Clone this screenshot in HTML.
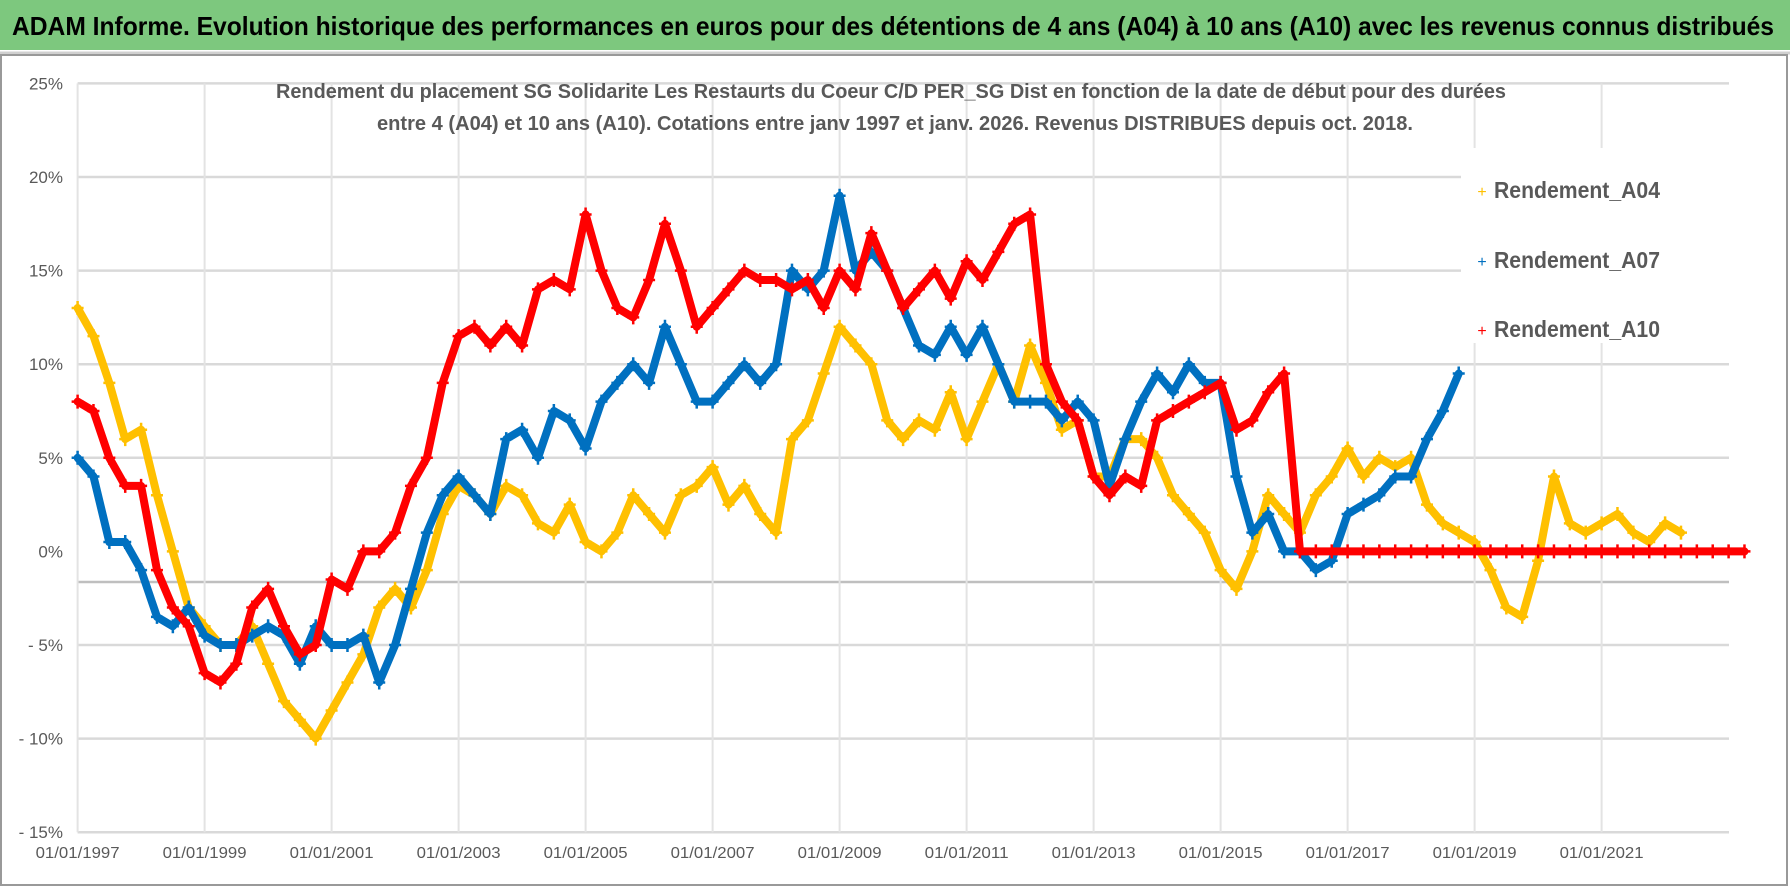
<!DOCTYPE html>
<html><head><meta charset="utf-8"><style>
html,body{margin:0;padding:0;background:#fff;}
svg{display:block;font-family:"Liberation Sans",sans-serif;}
</style></head><body>
<svg id="chart" width="1790" height="887" viewBox="0 0 1790 887" xmlns="http://www.w3.org/2000/svg">
<rect x="0" y="0" width="1790" height="50" fill="#7dc87e"/>
<text x="12" y="35" font-size="26" font-weight="bold" fill="#000" textLength="1762" lengthAdjust="spacingAndGlyphs">ADAM Informe. Evolution historique des performances en euros pour des détentions de 4 ans (A04) à 10 ans (A10) avec les revenus connus distribués</text>
<line x1="0" y1="53" x2="1790" y2="53" stroke="#d0d0d0" stroke-width="3"/>
<rect x="1" y="55" width="1786" height="830" fill="none" stroke="#999" stroke-width="2"/>
<g id="grid"></g>
<g id="series"></g>
<text x="891" y="98" text-anchor="middle" font-size="20" font-weight="bold" fill="#595959" textLength="1230" lengthAdjust="spacingAndGlyphs">Rendement du placement SG Solidarite Les Restaurts du Coeur C/D PER_SG Dist en fonction de la date de début pour des durées</text>
<text x="895" y="130" text-anchor="middle" font-size="20" font-weight="bold" fill="#595959" textLength="1036" lengthAdjust="spacingAndGlyphs">entre 4 (A04) et 10 ans (A10). Cotations entre janv 1997 et janv. 2026. Revenus DISTRIBUES depuis oct. 2018.</text>
<g id="legend">
<rect x="1461" y="148" width="286" height="195" fill="#fff"/>
<text x="1482" y="197" font-size="16" fill="#ffc000" text-anchor="middle">+</text>
<text x="1494" y="198" font-size="23" font-weight="bold" fill="#595959" textLength="166" lengthAdjust="spacingAndGlyphs">Rendement_A04</text>
<text x="1482" y="267" font-size="16" fill="#0070c0" text-anchor="middle">+</text>
<text x="1494" y="268" font-size="23" font-weight="bold" fill="#595959" textLength="166" lengthAdjust="spacingAndGlyphs">Rendement_A07</text>
<text x="1482" y="336" font-size="16" fill="#ff0000" text-anchor="middle">+</text>
<text x="1494" y="337" font-size="23" font-weight="bold" fill="#595959" textLength="166" lengthAdjust="spacingAndGlyphs">Rendement_A10</text>
</g>
</svg>
<script>
const yTicks=[25,20,15,10,5,0,-5,-10,-15];
const yTickLabels=["25%","20%","15%","10%","5%","0%","- 5%","- 10%","- 15%"];
const xTicks=[1997,1999,2001,2003,2005,2007,2009,2011,2013,2015,2017,2019,2021];
const xTickLabels=["01/01/1997","01/01/1999","01/01/2001","01/01/2003","01/01/2005","01/01/2007","01/01/2009","01/01/2011","01/01/2013","01/01/2015","01/01/2017","01/01/2019","01/01/2021"];
const startYear=1997, stepYear=0.25;
const a04=[13,11.5,9,6,6.5,3,0,-3,-4,-5,-5,-4,-6,-8,-9,-10,-8.5,-7,-5.5,-3,-2,-3,-1,2,3.5,3,2,3.5,3,1.5,1,2.5,0.5,0,1,3,2,1,3,3.5,4.5,2.5,3.5,2,1,6,7,9.5,12,11,10,7,6,7,6.5,8.5,6,8,10,8,11,9,6.5,7,4,4,6,6,5,3,2,1,-1,-2,0,3,2,1,3,4,5.5,4,5,4.5,5,2.5,1.5,1,0.5,-1,-3,-3.5,-0.5,4,1.5,1,1.5,2,1,0.5,1.5,1];
const a07=[5,4,0.5,0.5,-1,-3.5,-4,-3,-4.5,-5,-5,-4.5,-4,-4.5,-6,-4,-5,-5,-4.5,-7,-5,-2,1,3,4,3,2,6,6.5,5,7.5,7,5.5,8,9,10,9,12,10,8,8,9,10,9,10,15,14,15,19,15,16,15,13,11,10.5,12,10.5,12,10,8,8,8,7,8,7,3.5,6,8,9.5,8.5,10,9,9,4,1,2,0,0,-1,-0.5,2,2.5,3,4,4,6,7.5,9.5];
const a10=[8,7.5,5,3.5,3.5,-1,-3,-4,-6.5,-7,-6,-3,-2,-4,-5.5,-5,-1.5,-2,0,0,1,3.5,5,9,11.5,12,11,12,11,14,14.5,14,18,15,13,12.5,14.5,17.5,15,12,13,14,15,14.5,14.5,14,14.5,13,15,14,17,15,13,14,15,13.5,15.5,14.5,16,17.5,18,10,8,7,4,3,4,3.5,7,7.5,8,8.5,9,6.5,7,8.5,9.5,0,0,0,0,0,0,0,0,0,0,0,0,0,0,0,0,0,0,0,0,0,0,0,0,0,0,0,0,0];

const X=y=>77.6+(y-1997)*63.5;
const Y=v=>551.4-v*18.72;
const NS="http://www.w3.org/2000/svg";
const grid=document.getElementById('grid');
function mk(tag,attrs,parent){const e=document.createElementNS(NS,tag);for(const k in attrs)e.setAttribute(k,attrs[k]);parent.appendChild(e);return e;}
const plotR=1729;
yTicks.forEach((v,i)=>{
  if(v!==0){const l=mk('line',{x1:77.6,x2:plotR,y1:Y(v),y2:Y(v),stroke:'#d9d9d9','stroke-width':2.5},grid);
  
  }
  const t=mk('text',{x:63,y:Y(v)+6,'text-anchor':'end','font-size':17,fill:'#595959'},grid);
  
  
  t.textContent=yTickLabels[i];
});
const ax=mk('line',{x1:77.6,x2:plotR,y1:582,y2:582,stroke:'#bfbfbf','stroke-width':2.5},grid);


xTicks.forEach((yr,i)=>{
  const l=mk('line',{x1:X(yr),x2:X(yr),y1:Y(25),y2:Y(-15),stroke:'#e3e3e3','stroke-width':2},grid);
  
  
  const t=mk('text',{x:X(yr),y:858,'text-anchor':'middle','font-size':16,fill:'#595959',textLength:84,lengthAdjust:'spacingAndGlyphs'},grid);
  
  
  t.textContent=xTickLabels[i];
});
const sl=document.getElementById('series');
function draw(arr,color,name){
  const g=mk('g',{},sl);
  
  
  const pts=arr.map((v,i)=>X(startYear+i*stepYear).toFixed(1)+','+Y(v).toFixed(1)).join(' ');
  const p=mk('polyline',{points:pts,fill:'none',stroke:color,'stroke-width':8,'stroke-linejoin':'round','stroke-linecap':'round'},g);
  
  
  arr.forEach((v,i)=>{
    const x=X(startYear+i*stepYear),y=Y(v);
    const m=mk('path',{d:`M${x-6},${y}H${x+6}M${x},${y-7}V${y+7}`,stroke:color,'stroke-width':2.5},g);
    
    
  });
}
draw(a04,'#ffc000','series-a04');
draw(a07,'#0070c0','series-a07');
draw(a10,'#ff0000','series-a10');
</script>
</body></html>
